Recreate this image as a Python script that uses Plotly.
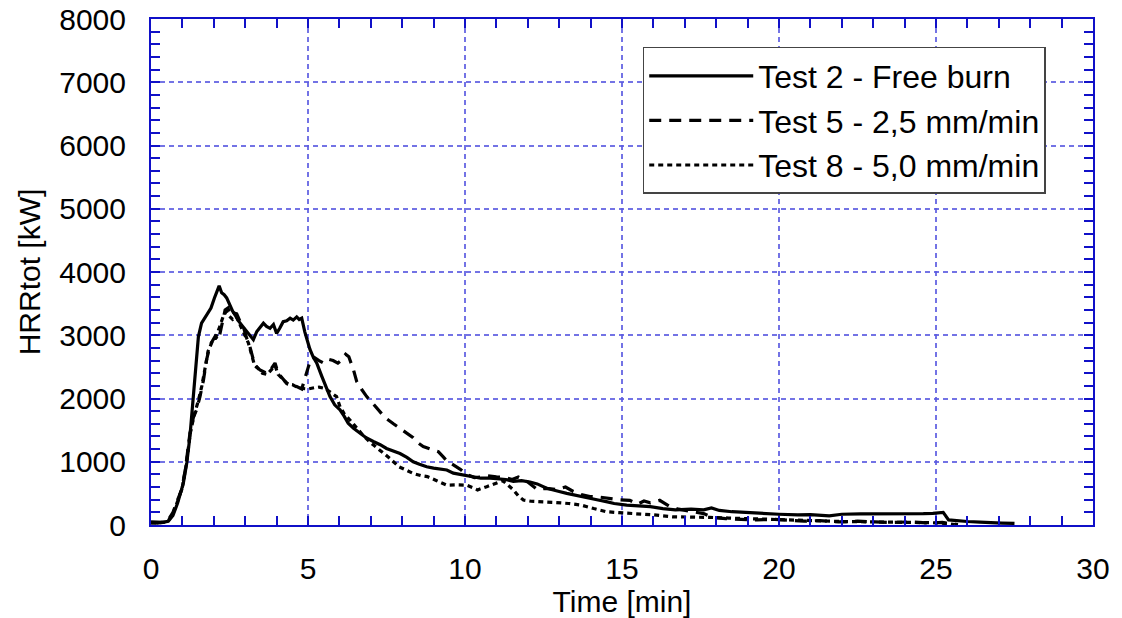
import plotly.graph_objects as go

# Test 2 - free burn
t_free = [0, 0.2, 0.4, 0.55, 0.7, 0.85, 1.03, 1.14, 1.24, 1.33, 1.42, 1.51, 1.61, 1.77, 1.91,
          2.02, 2.1, 2.17, 2.25, 2.33, 2.41, 2.52, 2.6, 2.68, 2.78, 2.89, 2.97, 3.05, 3.15, 3.26,
          3.37, 3.47, 3.58, 3.68, 3.79, 3.9, 4.0, 4.1, 4.21, 4.32, 4.43, 4.53, 4.64, 4.72, 4.8,
          4.9, 5.06, 5.17, 5.28, 5.44, 5.57, 5.7, 5.85, 6.02, 6.15, 6.28, 6.45, 6.66, 6.85, 7.08,
          7.3, 7.5, 7.7, 7.93, 8.15, 8.35, 8.55, 8.78, 9.0, 9.2, 9.42, 9.63, 9.85, 10.05, 10.3,
          10.5, 10.8, 11.0, 11.3, 11.54, 11.8, 12.07, 12.3, 12.6, 12.8, 13.0, 13.24, 13.5, 13.7,
          13.88, 14.2, 14.5, 14.75, 15.15, 15.5, 15.9, 16.3, 16.7, 17.2, 17.6, 17.85, 18.1, 18.5,
          19.0, 19.5, 20.0, 20.6, 21.0, 21.6, 22.0, 22.6, 23.2, 23.8, 24.3, 24.6, 24.9, 25.13,
          25.23, 25.4, 25.6, 26.0, 26.4, 26.7, 27.1, 27.5]
hrr_free = [40, 30, 45, 60, 150, 350, 660, 985, 1400, 1925, 2450, 2980, 3190, 3320, 3430,
            3590, 3700, 3780, 3670, 3640, 3590, 3450, 3380, 3320, 3230, 3160, 3110, 3060, 3010, 2930,
            3060, 3120, 3190, 3140, 3110, 3170, 3030, 3110, 3215, 3230, 3270, 3240, 3290, 3250, 3270,
            3050, 2780, 2650, 2560, 2350, 2180, 2030, 1900, 1820, 1720, 1610, 1530, 1450, 1380, 1320,
            1270, 1210, 1170, 1130, 1070, 1000, 960, 920, 900, 890, 870, 820, 800, 780, 760,
            740, 740, 730, 720, 690, 700, 680, 650, 580, 560, 530, 500, 470, 460,
            430, 400, 370, 340, 315, 300, 290, 260, 240, 250, 240, 270, 230, 210,
            195, 185, 170, 160, 165, 145, 170, 175, 175, 170, 175, 180, 185, 200,
            200, 80, 70, 55, 45, 35, 30, 25]

# Test 5 - 2,5 mm/min
t_25 = [0, 0.2, 0.4, 0.55, 0.7, 0.85, 0.98, 1.1, 1.24, 1.35, 1.45, 1.56, 1.67, 1.77, 1.88,
        2.04, 2.15, 2.25, 2.36, 2.45, 2.55, 2.65, 2.73, 2.85, 2.94, 3.05, 3.15, 3.26, 3.37, 3.47,
        3.58, 3.68, 3.8, 3.95, 4.05, 4.2, 4.32, 4.5, 4.64, 4.8, 4.9, 5.0, 5.1, 5.2, 5.35,
        5.5, 5.65, 5.8, 5.95, 6.05, 6.2, 6.3, 6.45, 6.55, 6.7, 6.87, 7.05, 7.24, 7.45, 7.72,
        7.95, 8.14, 8.35, 8.5, 8.67, 8.9, 9.15, 9.3, 9.45, 9.63, 9.85, 10.05, 10.3, 10.5, 10.7,
        11.0, 11.3, 11.5, 11.7, 12.0, 12.3, 12.6, 12.9, 13.2, 13.45, 13.7, 13.98, 14.3, 14.6, 14.9,
        15.25, 15.5, 15.7, 15.9, 16.2, 16.5, 16.8, 17.2, 17.6, 17.9, 18.3, 18.8, 19.3, 19.8, 20.3,
        20.8, 21.3, 21.9, 22.5, 23.0, 23.6, 24.2, 24.8, 25.2, 25.5, 25.7]
hrr_25 = [50, 40, 40, 80, 200, 400, 560, 900, 1450, 1700, 1820, 2030, 2290, 2610, 2845,
          2980, 2920, 3150, 3400, 3430, 3300, 3350, 3340, 3200, 3135, 2950, 2820, 2610, 2500, 2450,
          2430, 2400, 2450, 2560, 2400, 2320, 2240, 2200, 2190, 2150, 2300, 2480, 2640, 2650, 2600,
          2560, 2620, 2600, 2560, 2600, 2700, 2660, 2450, 2270, 2150, 2030, 1930, 1820, 1700, 1600,
          1520, 1450, 1380, 1300, 1240, 1200, 1160, 1080, 1000, 950, 880, 800, 750, 760, 780,
          760, 750, 720, 760, 680, 560, 580, 560, 600, 530, 480, 450, 440, 420, 400,
          390, 330, 380, 350, 390, 300, 250, 220, 180, 120, 100, 90, 80, 90, 70,
          60, 70, 50, 60, 50, 40, 50, 30, 40, 20, 5]

# Test 8 - 5,0 mm/min
t_50 = [0, 0.2, 0.4, 0.55, 0.7, 0.85, 1.0, 1.12, 1.25, 1.38, 1.5, 1.62, 1.72, 1.82, 1.95,
        2.05, 2.2, 2.3, 2.4, 2.5, 2.6, 2.72, 2.85, 3.0, 3.1, 3.2, 3.3, 3.4, 3.55, 3.7,
        3.85, 3.95, 4.05, 4.2, 4.35, 4.5, 4.65, 4.8, 5.0, 5.2, 5.35, 5.54, 5.7, 5.91, 6.02,
        6.15, 6.3, 6.5, 6.75, 7.0, 7.3, 7.6, 7.9, 8.15, 8.35, 8.6, 8.8, 9.1, 9.42, 9.7,
        10.05, 10.25, 10.4, 10.69, 10.95, 11.2, 11.35, 11.54, 11.7, 11.86, 12.1, 12.4, 12.9, 13.3, 13.7,
        14.1, 14.5, 14.9, 15.36, 16.0, 16.6, 17.2, 17.8, 18.4, 19.0, 19.6, 20.2, 20.8, 21.4, 22.0,
        22.8, 23.6, 24.4, 25.0, 25.4, 25.6]
hrr_50 = [30, 30, 40, 70, 180, 380, 600, 950, 1450, 1750, 1950, 2200, 2500, 2750, 2900,
          2950, 3150, 3300, 3380, 3300, 3250, 3300, 3150, 3000, 2880, 2700, 2520, 2480, 2400, 2380,
          2470, 2520, 2380, 2300, 2230, 2220, 2180, 2160, 2150, 2170, 2180, 2160, 2100, 2030, 1870,
          1760, 1680, 1560, 1420, 1300, 1180, 1055, 920, 860, 815, 780, 765, 700, 630, 635,
          630, 590, 555, 605, 650, 700, 640, 555, 460, 395, 375, 370, 355, 340, 315,
          260, 210, 195, 185, 160, 130, 130, 120, 110, 100, 90, 75, 70, 60, 55,
          50, 45, 40, 35, 20, 5]

series_names = ["Test 2 - Free burn", "Test 5 - 2,5 mm/min", "Test 8 - 5,0 mm/min"]

FONT = "Liberation Sans, Arial, sans-serif"
FRAME = "#1010c8"
GRID = "rgba(90,90,225,0.85)"

fig = go.Figure()
fig.add_trace(go.Scatter(x=t_free, y=hrr_free, mode="lines", name=series_names[0],
                         line=dict(color="black", width=3.2, dash="solid")))
fig.add_trace(go.Scatter(x=t_25, y=hrr_25, mode="lines", name=series_names[1],
                         line=dict(color="black", width=3.2, dash="12px,8px")))
fig.add_trace(go.Scatter(x=t_50, y=hrr_50, mode="lines", name=series_names[2],
                         line=dict(color="black", width=3.2, dash="5px,4px")))

axis_common = dict(
    showline=True, linecolor=FRAME, linewidth=2, mirror="ticks",
    ticks="inside", ticklen=9, tickcolor=FRAME, tickwidth=1.5,
    showgrid=True, gridcolor=GRID, gridwidth=1.5, griddash="5px,4px",
    zeroline=False, automargin=False,
    tickfont=dict(family=FONT, size=30, color="black"),
)

fig.update_xaxes(
    range=[0, 30], dtick=5, tick0=0,
    minor=dict(dtick=1, ticks="inside", ticklen=9, tickcolor=FRAME, tickwidth=1.5, showgrid=False),
    title=dict(text="Time [min]", font=dict(family=FONT, size=30, color="black"), standoff=0),
    ticklabelstandoff=16,
    **axis_common,
)
fig.update_yaxes(
    range=[0, 8000], dtick=1000, tick0=0,
    minor=dict(dtick=200, ticks="inside", ticklen=9, tickcolor=FRAME, tickwidth=1.5, showgrid=False),
    title=dict(text="HRRtot [kW]", font=dict(family=FONT, size=30, color="black"), standoff=10),
    ticklabelstandoff=17,
    **axis_common,
)

fig.update_layout(
    width=1122, height=618,
    margin=dict(l=151, r=29, t=19, b=93),
    paper_bgcolor="white", plot_bgcolor="white",
    font=dict(family=FONT, size=30, color="black"),
    showlegend=True,
    legend=dict(
        x=0.522, y=0.9447, xanchor="left", yanchor="top",
        bgcolor="white", bordercolor="#444444", borderwidth=1.5,
        font=dict(family=FONT, size=32, color="black"),
        itemwidth=104, tracegroupgap=0,
    ),
)

fig.write_html("out.html")
